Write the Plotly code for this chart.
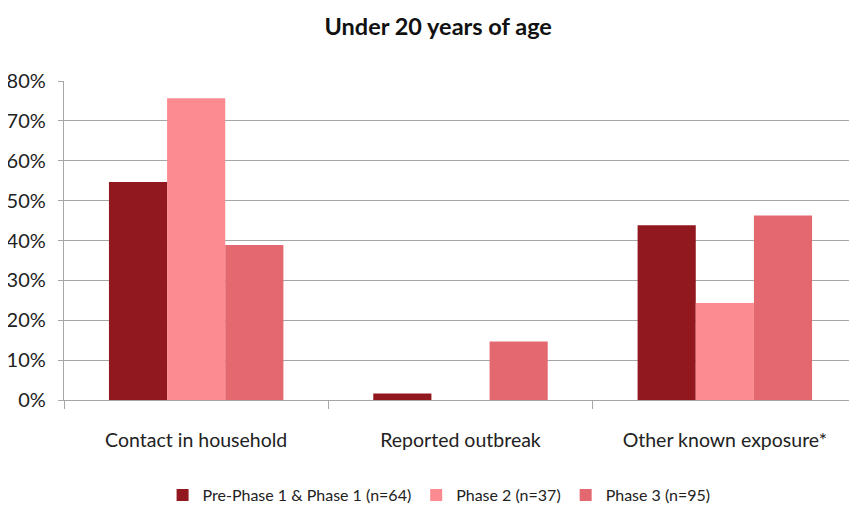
import plotly.graph_objects as go

categories = ["Contact in household", "Reported outbreak", "Other known exposure*"]
series_names = ["Pre-Phase 1 & Phase 1 (n=64)", "Phase 2 (n=37)", "Phase 3 (n=95)"]
pre_phase1 = [0.547, 0.016, 0.438]
phase2 = [0.757, 0.0, 0.243]
phase3 = [0.389, 0.147, 0.463]
colors = ["#921820", "#FB8B91", "#E46870"]
y_ticks = [0, 0.1, 0.2, 0.3, 0.4, 0.5, 0.6, 0.7, 0.8]

fig = go.Figure()
for name, vals, col in zip(series_names, [pre_phase1, phase2, phase3], colors):
    fig.add_trace(go.Bar(x=categories, y=vals, name=name, marker=dict(color=col, line=dict(width=0))))

fig.update_layout(
    width=857, height=508,
    barmode="group", bargap=0.34, bargroupgap=0,
    plot_bgcolor="white", paper_bgcolor="white",
    font=dict(family="Lato", size=19, color="#222222"),
    title=dict(text="<b>Under 20 years of age</b>", x=0.502, xanchor="center", y=0.963, yanchor="middle",
               font=dict(family="Lato", size=23.5, color="#111111")),
    margin=dict(l=56, r=8, t=73, b=116),
    legend=dict(orientation="h", x=0.473, xanchor="center", xref="paper",
                y=0.041, yref="container", yanchor="middle",
                font=dict(size=16), traceorder="normal", itemwidth=30),
)
fig.update_yaxes(range=[0, 0.8], tickvals=y_ticks, tickformat=".0%", showgrid=True, gridcolor="#A6A6A6",
                 gridwidth=1.3, showline=True, linecolor="#A6A6A6", linewidth=1.3, ticks="outside",
                 ticklen=5, tickcolor="#A6A6A6", zeroline=False, tickfont=dict(size=20),
                 ticklabelstandoff=8, automargin=False)
fig.update_xaxes(showline=True, linecolor="#A6A6A6", linewidth=1.3, ticks="outside", tickson="boundaries",
                 ticklen=8, tickcolor="#A6A6A6", tickfont=dict(size=19.5), ticklabelstandoff=22,
                 automargin=False)

fig.write_html("out.html")
